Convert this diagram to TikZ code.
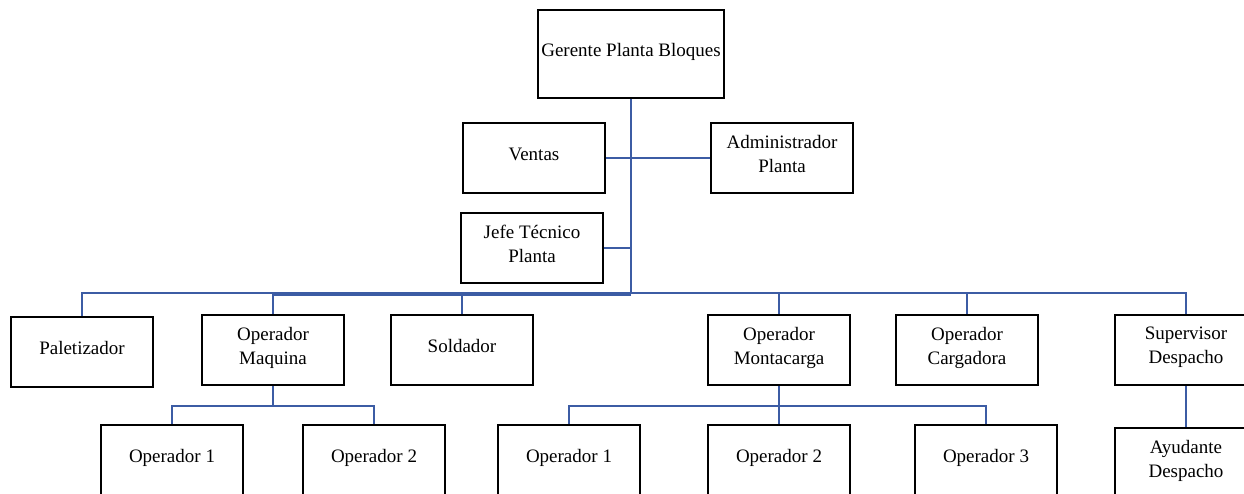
\documentclass[tikz,border=0pt]{standalone}
\usepackage{fontspec}
\setmainfont{Liberation Serif}
\usetikzlibrary{positioning}

\definecolor{linkblue}{RGB}{60,92,164}

% puntales para subir un poco el texto dentro de la caja
\newcommand\cajaarriba{\rule{0pt}{14pt}}
\newcommand\cajaabajo{\rule[-9pt]{0pt}{9pt}}

\tikzstyle{block} = [rectangle, draw, line width=2pt, align=center, minimum width=142pt, minimum height=70pt, inner sep=0pt, font=\fontsize{19}{24}\selectfont, execute at begin node=\cajaarriba, execute at end node=\cajaabajo]
\tikzstyle{line} = [draw=linkblue, line width=2pt]

\begin{document}
\begin{tikzpicture}[x=1pt, y=-1pt]
\useasboundingbox (0,0) rectangle (1244,494);
% direccion
\node [block, minimum width=186pt, minimum height=88pt] (gerente) at (631,54) {Gerente Planta Bloques};
\node [block] (ventas) at (534,158) {Ventas};
\node [block] (admin) at (782,158) {Administrador\\Planta};
\node [block] (jefe) at (532,248) {Jefe Técnico\\Planta};
\coordinate (bus) at (631,293);
\coordinate (bustramo) at (631,294.5);
% segundo nivel
\node [block] (paletizador) at (82,352) {Paletizador};
\node [block] (maquina) at (273,350) {Operador\\Maquina};
\node [block] (soldador) at (462,350) {Soldador};
\node [block] (montacarga) at (779,350) {Operador\\Montacarga};
\node [block] (cargadora) at (967,350) {Operador\\Cargadora};
\node [block] (supervisor) at (1186,350) {Supervisor\\Despacho};
% tercer nivel
\node [block] (maqop1) at (172,460) {Operador 1};
\node [block] (maqop2) at (374,460) {Operador 2};
\node [block] (monop1) at (569,460) {Operador 1};
\node [block] (monop2) at (779,460) {Operador 2};
\node [block] (monop3) at (986,460) {Operador 3};
\node [block] (ayudante) at (1186,463) {Ayudante\\Despacho};

\path [line] (gerente.south) -- (bus);
\path [line] (ventas.east) -- (admin.west);
\path [line] (jefe.east) -- (jefe.east -| bus);
\foreach \n in {paletizador, maquina, soldador, montacarga, cargadora, supervisor}
  \path [line] (bus) -| (\n.north);
% tramo grueso hasta Operador Maquina
\path [line, line width=3.5pt] (bustramo) -- (bustramo -| maquina.north);
\foreach \n in {maqop1, maqop2}
  \path [line] (maquina.south) -- ++(0,20) -| (\n.north);
\foreach \n in {monop1, monop2, monop3}
  \path [line] (montacarga.south) -- ++(0,20) -| (\n.north);
\path [line] (supervisor.south) -- (ayudante.north);
\end{tikzpicture}
\end{document}
